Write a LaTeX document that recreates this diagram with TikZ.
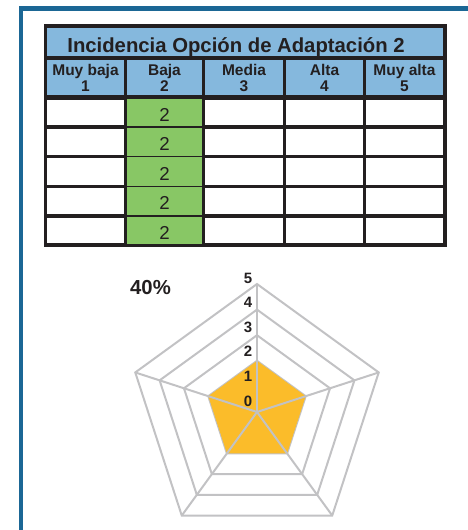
\documentclass[tikz,border=0pt]{standalone}
\usepackage{fontspec}
\setmainfont{Liberation Sans}
\usepackage{tikz}
\usetikzlibrary{calc}
\usepackage{xcolor}
\definecolor{frameblue}{HTML}{1B6795}
\definecolor{headblue}{HTML}{85B8DD}
\definecolor{cellgreen}{HTML}{88C765}
\definecolor{radarorange}{HTML}{FBBC2A}
\definecolor{gridgrey}{HTML}{C2C2C4}
\definecolor{tblack}{HTML}{231F20}
\tikzset{
  titletext/.style={font=\bfseries\fontsize{20.3}{22}\selectfont,text=tblack,inner sep=0pt},
  headtext/.style={font=\bfseries\fontsize{15.5}{16}\selectfont,align=center,text=tblack,inner sep=0pt},
  valtext/.style={font=\fontsize{18.7}{20}\selectfont,text=tblack,inner sep=0pt},
  axisnum/.style={font=\bfseries\fontsize{15}{16}\selectfont,text=tblack,inner sep=0pt},
  radargrid/.style={gridgrey,line width=2pt,line join=miter}
}

\begin{document}
\begin{tikzpicture}[x=1pt,y=-1pt]
  \useasboundingbox (0,0) rectangle (467,530);
  % frame
  \draw[frameblue,line width=4.5pt] (21,540) -- (21,8.5) -- (480,8.5);
  % table
  \fill[tblack] (44,24) rectangle (447,247);
  \fill[headblue] (47,28) rectangle (443,56);
  \node[titletext,anchor=base] (title) at (236,52) {Incidencia Opción de Adaptación 2};
  \foreach \l/\rr/\lab/\num [count=\c] in {47/124/Muy baja/1,127/202/Baja/2,205/283/Media/3,286/363/Alta/4,366/443/Muy alta/5}{
    \fill[headblue] (\l,60) rectangle (\rr,95);
    \node[headtext] (h\c) at ({(\l+\rr)/2},77.5) {\lab\\\num};
    \foreach \t/\b in {100/125,129/155,158/185,188/214,218/243}
      \fill[white] (\l,\t) rectangle (\rr,\b);
  }
  \foreach \t/\b [count=\r] in {99/126,128/156,157/186,187/215,217/244}{
    \fill[cellgreen] (127,\t) rectangle (202,\b);
    \node[valtext] (v\r) at (164.5,{(\t+\b)/2+2}) {2};
  }
  % radar
  \coordinate (O) at (257,412);
  \foreach \k in {1,...,5}
    \draw[radargrid] ($(O)+(-90:\k*25.6)$)
      \foreach \a in {1,...,4}{ -- ($(O)+({-90+72*\a}:\k*25.6)$)} -- cycle;
  \fill[radarorange] ($(O)+(-90:51.2)$)
    \foreach \a in {1,...,4}{ -- ($(O)+({-90+72*\a}:51.2)$)} -- cycle;
  \foreach \a in {0,...,4}
    \draw[radargrid] (O) -- ($(O)+({-90+72*\a}:128)$);
  \foreach \k in {0,...,5}
    \node[axisnum,anchor=base east] (n\k) at (252.5,{406-24.6*\k}) {\k};
  \node[titletext,anchor=base west] (pct) at (130,294) {40\%};
\end{tikzpicture}
\end{document}
